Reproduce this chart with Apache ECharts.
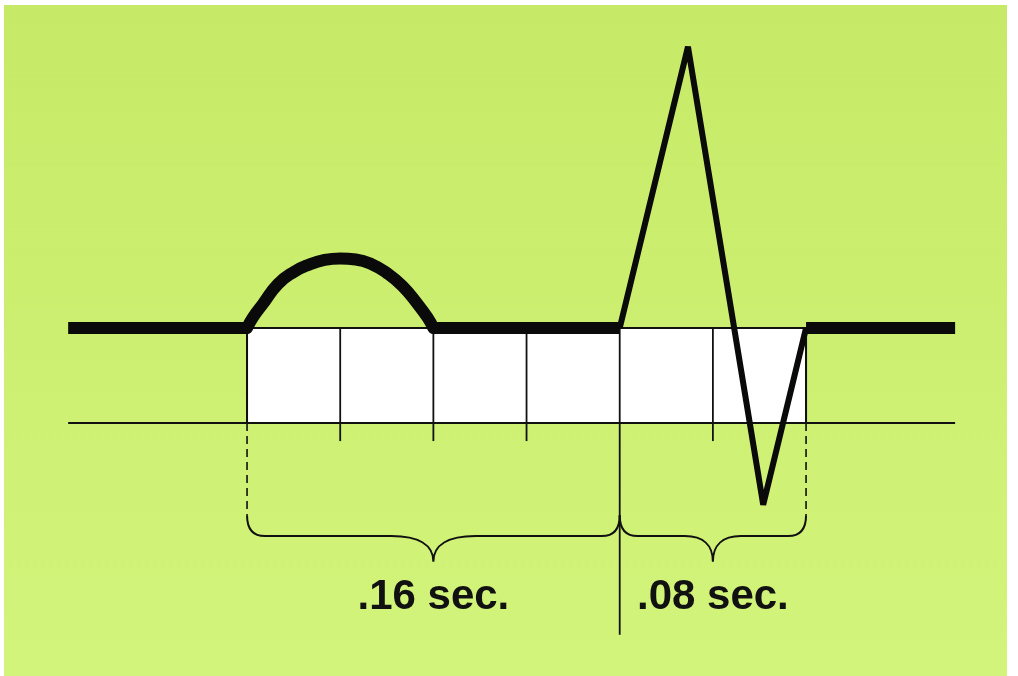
<!DOCTYPE html>
<html>
<head>
<meta charset="utf-8">
<script src="https://cdn.jsdelivr.net/npm/echarts@6/dist/echarts.min.js"></script>
<style>
  html, body { margin: 0; padding: 0; background: #ffffff; }
  #chart { width: 1018px; height: 676px; }
</style>
</head>
<body>
<div id="chart"></div>
<script>
// ---- data (time in seconds, amplitude in grid units) ----
const traceStart = -0.0768;
const traceEnd = 0.304;
const gridTimes = [0, 0.04, 0.08, 0.12, 0.16, 0.20, 0.24];
const pWaveTimes = [0, 0.0025, 0.0067, 0.0133, 0.02, 0.0267, 0.0333, 0.04, 0.0467, 0.0533, 0.06, 0.0667, 0.0733, 0.0775, 0.08];
const pWaveValues = [0, 0.11, 0.25, 0.463, 0.589, 0.668, 0.716, 0.732, 0.721, 0.674, 0.579, 0.442, 0.25, 0.11, 0];
const qrsTimes = [0.16, 0.1893, 0.2216, 0.24];
const qrsValues = [0, 2.96, -1.86, 0];
const intervals = [[0, 0.16], [0.16, 0.24]];
const intervalLabels = ['.16 sec.', '.08 sec.'];

// ---- build option ----
const baselineData = [
  [traceStart, 0], [pWaveTimes[0], 0],
  [0.04, '-'],
  [pWaveTimes[pWaveTimes.length - 1], 0], [qrsTimes[0], 0],
  [0.2, '-'],
  [qrsTimes[qrsTimes.length - 1], 0], [traceEnd, 0]
];
const pData = pWaveTimes.map((t, i) => [t, pWaveValues[i]]);
const qrsData = qrsTimes.map((t, i) => [t, qrsValues[i]]);

const boxStart = gridTimes[0], boxEnd = gridTimes[gridTimes.length - 1];
const vLines = [];
gridTimes.forEach(t => {
  if (t === boxStart || t === boxEnd) {
    vLines.push([t, 0, -1, 0]);
    vLines.push([t, -1, -1.97, 1]);
  } else if (t === 0.16) {
    vLines.push([t, 0, -3.23, 0]);
  } else {
    vLines.push([t, 0, -1.19, 0]);
  }
});

const labelData = intervals.map((iv, i) => [(iv[0] + iv[1]) / 2, -2.84, intervalLabels[i]]);

const chart = echarts.init(document.getElementById('chart'), null, { renderer: 'canvas' });
chart.setOption({
  backgroundColor: '#ffffff',
  animation: false,
  graphic: [{
    type: 'rect', z: -10, silent: true,
    shape: { x: 4, y: 5, width: 1003, height: 671 },
    style: {
      fill: new echarts.graphic.LinearGradient(0, 0, 0, 1, [
        { offset: 0, color: '#c6ea67' },
        { offset: 1, color: '#d3f47b' }
      ])
    }
  }],
  grid: { left: 60.7, right: 48.9, top: 24, bottom: 15.5 },
  xAxis: {
    type: 'value', min: -0.08, max: 0.31,
    axisLine: { show: false }, axisTick: { show: false },
    axisLabel: { show: false }, splitLine: { show: false }
  },
  yAxis: {
    type: 'value', min: -3.5, max: 3.2,
    axisLine: { show: false }, axisTick: { show: false },
    axisLabel: { show: false }, splitLine: { show: false }
  },
  series: [
    {
      type: 'custom', z: 1, clip: false,
      data: [[boxStart, boxEnd]],
      renderItem: function (params, api) {
        const a = api.coord([api.value(0), 0]);
        const b = api.coord([api.value(1), -1]);
        return {
          type: 'rect',
          shape: { x: a[0], y: a[1], width: b[0] - a[0], height: b[1] - a[1] },
          style: { fill: '#ffffff', stroke: '#111111', lineWidth: 2 }
        };
      }
    },
    {
      type: 'line', z: 2, symbol: 'none', silent: true,
      data: [[traceStart, -1], [traceEnd, -1]],
      lineStyle: { color: '#111111', width: 2 }
    },
    {
      type: 'custom', z: 2, clip: false,
      data: vLines,
      renderItem: function (params, api) {
        const a = api.coord([api.value(0), api.value(1)]);
        const b = api.coord([api.value(0), api.value(2)]);
        const dashed = api.value(3) === 1;
        return {
          type: 'line',
          shape: { x1: a[0], y1: a[1], x2: b[0], y2: b[1] },
          style: { stroke: '#111111', lineWidth: dashed ? 1.6 : 1.8, lineDash: dashed ? [8, 5] : null }
        };
      }
    },
    {
      type: 'custom', z: 2, clip: false,
      data: intervals,
      renderItem: function (params, api) {
        const t0 = api.value(0), t1 = api.value(1), tm = (t0 + t1) / 2;
        const p0 = api.coord([t0, -1.97]);
        const p1 = api.coord([t1, -1.97]);
        const yMid = api.coord([tm, -2.19])[1];
        const tip = api.coord([tm, -2.46]);
        const w = p1[0] - p0[0];
        const s = Math.min(42, w * 0.15);
        const r = 18;
        const d = [
          'M', p0[0], p0[1],
          'Q', p0[0], yMid, p0[0] + r, yMid,
          'L', tip[0] - s, yMid,
          'C', tip[0] - s * 0.35, yMid, tip[0], yMid + (tip[1] - yMid) * 0.35, tip[0], tip[1],
          'M', tip[0], tip[1],
          'C', tip[0], yMid + (tip[1] - yMid) * 0.35, tip[0] + s * 0.35, yMid, tip[0] + s, yMid,
          'L', p1[0] - r, yMid,
          'Q', p1[0], yMid, p1[0], p1[1]
        ].join(' ');
        return {
          type: 'path',
          shape: { pathData: d },
          style: { fill: null, stroke: '#111111', lineWidth: 2 }
        };
      }
    },
    {
      type: 'line', z: 5, symbol: 'none', silent: true,
      data: baselineData, connectNulls: false,
      lineStyle: { color: '#0a0a0a', width: 12, cap: 'butt' }
    },
    {
      type: 'line', z: 5, symbol: 'none', silent: true,
      data: pData, smooth: 0.5,
      lineStyle: { color: '#0a0a0a', width: 12, cap: 'round', join: 'round' }
    },
    {
      type: 'line', z: 5, symbol: 'none', silent: true,
      data: qrsData,
      lineStyle: { color: '#0a0a0a', width: 6, join: 'bevel', cap: 'butt' }
    },
    {
      type: 'custom', z: 6, clip: false,
      data: labelData,
      renderItem: function (params, api) {
        const p = api.coord([api.value(0), api.value(1)]);
        return {
          type: 'text', x: p[0], y: p[1],
          style: {
            text: intervalLabels[params.dataIndex],
            fontFamily: '"Liberation Sans", Arial, Helvetica, sans-serif',
            fontWeight: 'bold', fontSize: 42,
            fill: '#111111', align: 'center', verticalAlign: 'middle'
          }
        };
      }
    }
  ]
});
</script>
</body>
</html>
